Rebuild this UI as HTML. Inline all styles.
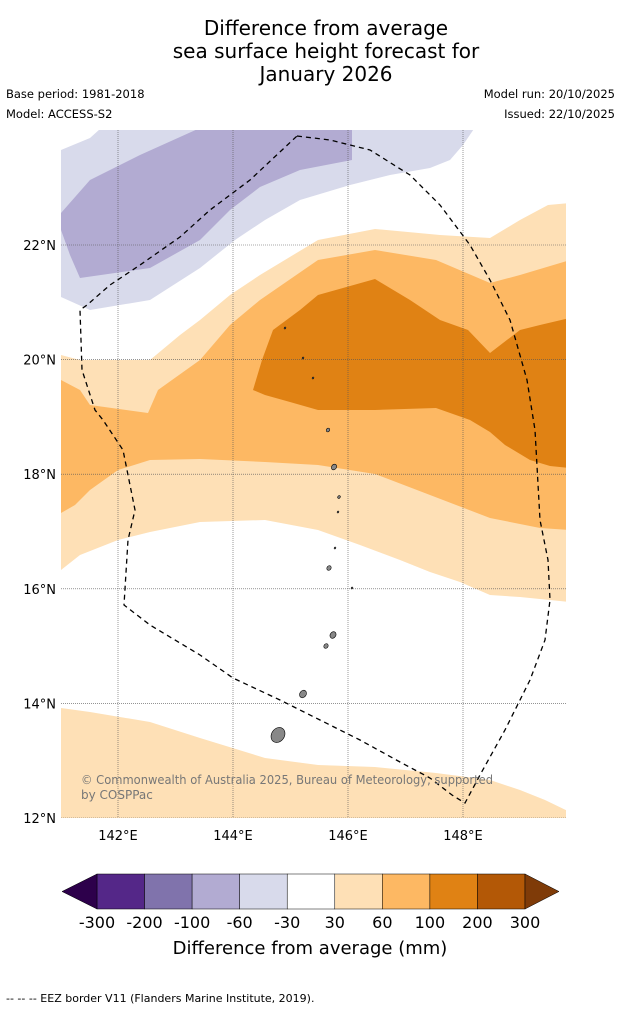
<!DOCTYPE html>
<html><head><meta charset="utf-8">
<style>
body{margin:0;background:#fff;width:621px;height:1011px;overflow:hidden;font-family:"Liberation Sans","DejaVu Sans",sans-serif;}
</style></head>
<body>
<svg id="chart" width="621" height="1011" xmlns="http://www.w3.org/2000/svg" font-family="DejaVu Sans, Liberation Sans, sans-serif">
<g font-size="20" text-anchor="middle" fill="#000">
<text x="326" y="35">Difference from average</text>
<text x="326" y="58">sea surface height forecast for</text>
<text x="326" y="81">January 2026</text>
</g>
<text x="6" y="98" font-size="11.5">Base period: 1981-2018</text>
<text x="6" y="118" font-size="11.5">Model: ACCESS-S2</text>
<text x="615" y="98" font-size="11.5" text-anchor="end">Model run: 20/10/2025</text>
<text x="615" y="118" font-size="11.5" text-anchor="end">Issued: 22/10/2025</text>
<defs><clipPath id="mapclip"><rect x="61" y="130" width="505" height="688"/></clipPath></defs>
<g id="map" clip-path="url(#mapclip)"></g>
<g id="axes"></g>
<g id="cbar"></g>
<text x="310" y="954" font-size="18" text-anchor="middle">Difference from average (mm)</text>
<text x="6" y="1002" font-size="11">--  --  -- EEZ border V11 (Flanders Marine Institute, 2019).</text>
</svg>
<script>
const lonTicks=[142,144,146,148];
const latTicks=[12,14,16,18,20,22];
const cbLevels=[-300,-200,-100,-60,-30,30,60,100,200,300];
const cbColors=["#542788","#8073ac","#b2abd2","#d8daeb","#ffffff","#fee0b6","#fdb863","#e08214","#b35806"];
const P=(a)=>a.map(p=>[142+(p[0]-118)/57.5,22-(p[1]-245)/57.3]);
const lightPurple=P([[61,297],[61,150],[90,138],[110,120],[480,120],[463,145],[450,160],[430,168],[390,175],[350,185],[300,200],[265,220],[235,240],[200,268],[150,300],[90,310]]);
const midPurple=P([[61,213],[90,180],[140,155],[200,128],[352,128],[352,160],[300,170],[260,187],[230,210],[200,240],[150,268],[80,278],[70,255],[61,230]]);
const lightOrangeTop=P([[61,355],[80,360],[150,360],[180,335],[200,320],[230,295],[260,275],[318,240],[375,229],[440,235],[490,238],[520,220],[548,205],[570,203],[570,602],[520,597],[490,595],[460,582],[430,572],[400,560],[360,545],[318,530],[265,520],[200,522],[150,532],[118,540],[80,555],[61,570]]);
const midOrange=P([[61,380],[80,390],[90,405],[148,413],[158,390],[200,360],[230,325],[260,300],[318,260],[375,250],[436,260],[490,283],[520,275],[570,260],[570,530],[540,528],[490,518],[430,495],[375,474],[318,465],[265,462],[200,459],[150,460],[118,470],[90,490],[75,505],[61,513]]);
const darkOrange=P([[253,390],[262,360],[273,330],[300,310],[318,295],[375,279],[410,300],[440,320],[468,330],[490,353],[520,330],[540,325],[570,318],[570,468],[550,466],[530,460],[505,445],[490,432],[470,420],[436,408],[375,410],[318,410],[290,402],[265,395]]);
const lightOrangeBottom=P([[61,708],[90,712],[150,722],[200,738],[265,758],[318,765],[375,767],[436,773],[490,780],[520,790],[545,800],[570,812],[570,825],[61,825]]);
const eez=P([[297,136],[330,140],[370,150],[410,175],[440,205],[470,245],[490,280],[510,320],[527,380],[535,430],[540,520],[548,560],[550,600],[545,640],[530,680],[505,730],[490,757],[480,775],[465,803],[452,795],[430,778],[400,762],[360,740],[320,720],[280,700],[233,678],[200,655],[150,625],[124,605],[128,540],[135,510],[127,470],[123,450],[103,420],[95,410],[82,370],[80,310],[87,305],[110,285],[140,265],[180,237],[210,210],[250,180],[297,136]]);
const islands=P([[278,735],[333,635],[326,646],[303,694],[334,467],[328,430],[329,568],[339,497],[338,512],[313,378],[303,358],[285,328],[335,548],[352,588]]);
const islandSizes=[8,3.5,2.5,4,3,2,2.5,1.5,1,1,1,1,1,1];

const X=lon=>118+(lon-142)*57.5;
const Y=lat=>245-(lat-22)*57.3;
const NS="http://www.w3.org/2000/svg";
const map=document.getElementById('map'),axes=document.getElementById('axes'),cbar=document.getElementById('cbar');
function mk(tag,attrs,parent){const e=document.createElementNS(NS,tag);for(const k in attrs)e.setAttribute(k,attrs[k]);parent.appendChild(e);return e;}
const pts=a=>a.map(p=>X(p[0]).toFixed(1)+","+Y(p[1]).toFixed(1)).join(" ");
const layers=[[lightPurple,"#d8daeb","light-purple-region"],[midPurple,"#b2abd2","mid-purple-region"],[lightOrangeTop,"#fee0b6","light-orange-region"],[midOrange,"#fdb863","mid-orange-region"],[darkOrange,"#e08214","dark-orange-region"],[lightOrangeBottom,"#fee0b6","light-orange-south-region"]];
layers.forEach(l=>{const e=mk('polygon',{points:pts(l[0]),fill:l[1]},map);

});
lonTicks.forEach(v=>{const e=mk('line',{x1:X(v),x2:X(v),y1:130,y2:818,stroke:"#555","stroke-width":0.6,"stroke-dasharray":"1,1"},map);


const t=mk('text',{x:X(v),y:840,"font-size":13,"text-anchor":"middle"},axes);t.textContent=v+"°E";

});
latTicks.forEach(v=>{const e=mk('line',{x1:61,x2:566,y1:Y(v),y2:Y(v),stroke:"#555","stroke-width":0.6,"stroke-dasharray":"1,1"},map);


const t=mk('text',{x:56,y:Y(v)+5,"font-size":13,"text-anchor":"end"},axes);t.textContent=v+"°N";

});
const ez=mk('polyline',{points:pts(eez),fill:"none",stroke:"#000","stroke-width":1.3,"stroke-dasharray":"5,4"},map);


islands.forEach((p,i)=>{const r=islandSizes[i];const e=mk('ellipse',{cx:X(p[0]),cy:Y(p[1]),rx:r*0.8,ry:r,fill:"#888",stroke:"#000","stroke-width":0.6,transform:`rotate(35 ${X(p[0])} ${Y(p[1])})`},map);

});
const cr=mk('text',{x:81,y:784,"font-size":12,fill:"#777",textLength:412,lengthAdjust:"spacingAndGlyphs"},map);cr.textContent="© Commonwealth of Australia 2025, Bureau of Meteorology, supported";


const cr2=mk('text',{x:81,y:799,"font-size":12,fill:"#777"},map);cr2.textContent="by COSPPac";


const cx0=97,cx1=525,cy0=874,cy1=909,segW=(cx1-cx0)/cbColors.length;
cbColors.forEach((c,i)=>{const e=mk('rect',{x:cx0+i*segW,y:cy0,width:segW,height:cy1-cy0,fill:c,stroke:"#000","stroke-width":0.5},cbar);

});
const lt=mk('polygon',{points:`${cx0},${cy0} ${cx0},${cy1} 62,${(cy0+cy1)/2}`,fill:"#2d004b",stroke:"#000","stroke-width":0.5},cbar);


const rt=mk('polygon',{points:`${cx1},${cy0} ${cx1},${cy1} 559,${(cy0+cy1)/2}`,fill:"#7f3b08",stroke:"#000","stroke-width":0.5},cbar);


cbLevels.forEach((v,i)=>{const t=mk('text',{x:cx0+i*segW,y:928,"font-size":16,"text-anchor":"middle"},cbar);t.textContent=v;

});
</script>
</body></html>
